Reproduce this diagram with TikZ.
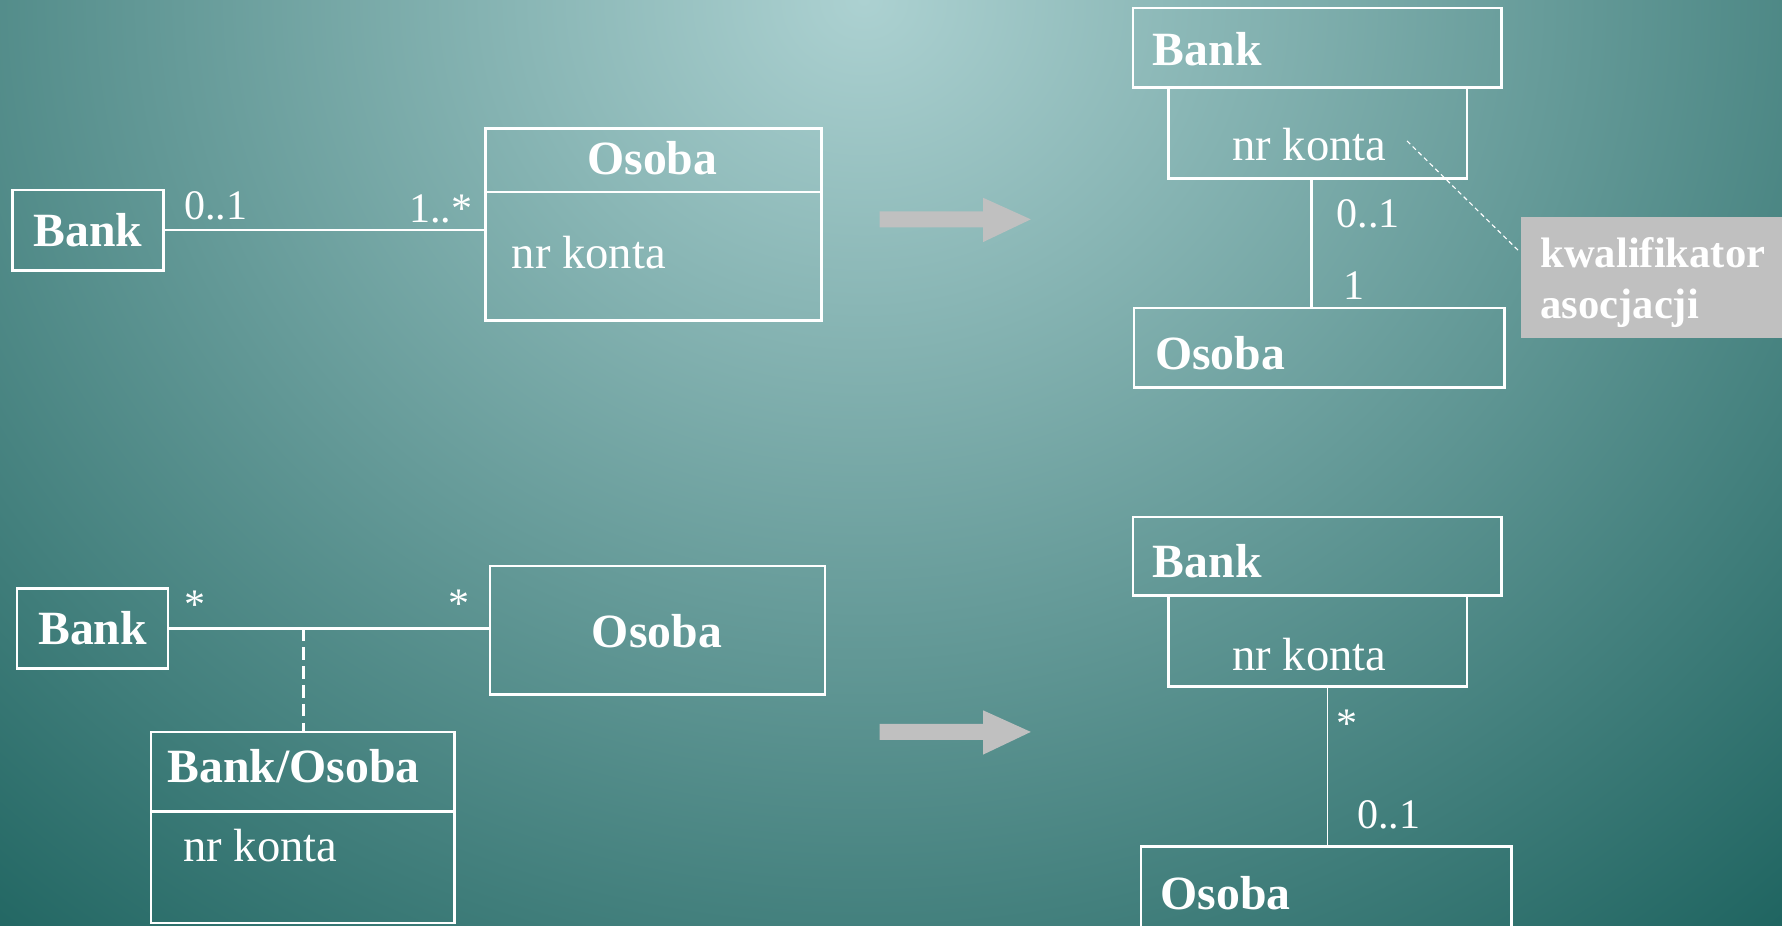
\documentclass[tikz,border=0pt]{standalone}
\usepackage{fontspec}
\setmainfont{Liberation Serif}
\usetikzlibrary{calc}

\definecolor{bglight}{RGB}{172,209,209}
\definecolor{bgdark}{RGB}{28,98,94}
\definecolor{hint}{RGB}{192,192,192}

% class box given by its corners (x1,y1) (x2,y2) in drawing units
\newcommand\umlbox[5]{%
  \node[umlframe, minimum width={(#4-#2)*0.5pt}, minimum height={(#5-#3)*0.5pt}]
    (#1) at ({(#2+#4)/2},{(#3+#5)/2}) {};}

\begin{document}
\begin{tikzpicture}[x=0.5pt, y=-0.5pt,
  umlframe/.style={draw=white, line width=1.1pt, inner sep=0pt, outer sep=0pt},
  assoc/.style={draw=white, line width=1.1pt},
  cname/.style={text=white, inner sep=0pt, font=\fontsize{21}{25}\selectfont\bfseries},
  attr/.style={text=white, inner sep=0pt, font=\fontsize{20.5}{24}\selectfont},
  mult/.style={text=white, inner sep=0pt, font=\fontsize{18.5}{22}\selectfont},
  notetext/.style={text=white, inner sep=0pt, font=\fontsize{18.75}{22}\selectfont\bfseries},
  bigarrow/.style={fill=hint, draw=none}]

\useasboundingbox (0,0) rectangle (1568,814);

% background glow from the top centre
\begin{scope}
  \clip (0,0) rectangle (1568,814);
  \fill[bgdark] (0,0) rectangle (1568,814);
  \shade[inner color=bglight, outer color=bgdark] (760,0) ellipse[x radius=620pt, y radius=560pt];
\end{scope}

% ---------- upper left: plain association ----------
\umlbox{bankA}{11}{167}{144}{238}
\node[cname] (bankAt) at (bankA) {Bank};
\umlbox{osobaAh}{427}{113}{723}{169}
\node[cname] (osobaAt) at (574,139) {Osoba};
\umlbox{osobaAb}{427}{169}{723}{282}
\node[attr, anchor=west] (osobaAa) at (450,222) {nr konta};
\draw[assoc] (bankA.east) -- (bankA.east -| osobaAb.west);
\node[mult] (mA1) at (190,181) {0..1};
\node[mult] (mA2) at (388,184) {1..*};

% ---------- upper right: qualified association ----------
\umlbox{bankB}{997}{7}{1321}{77}
\node[cname, anchor=west] (bankBt) at (1014,43) {Bank};
\umlbox{qualB}{1028}{77}{1291}{157}
\node[attr] (qualBt) at (1152,127) {nr konta};
\umlbox{osobaB}{998}{271}{1324}{341}
\node[cname, anchor=west] (osobaBt) at (1016,311) {Osoba};
\draw[assoc] ($(qualB.south)+(-5.5,0)$) -- ($(qualB.south |- osobaB.north)+(-5.5,0)$);
\node[mult] (mB1) at (1204,188) {0..1};
\node[mult] (mB2) at (1191,251) {1};

% note explaining the qualifier
\node[fill=hint, minimum width=115pt, minimum height=53pt, inner sep=0pt] (note) at (1453,244) {};
\node[notetext, anchor=base west] (noteL1) at (1355,235) {kwalifikator};
\node[notetext, anchor=base west] (noteL2) at (1355,280) {asocjacji};
\coordinate (qpoint) at (1238,124);
\draw[white, line width=0.5pt, dash pattern=on 2pt off 1.5pt] (qpoint) -- ($(note.west)+(0,-22)$);

% ---------- lower left: association class ----------
\umlbox{bankC}{15}{518}{148}{588}
\node[cname] (bankCt) at (bankC) {Bank};
\umlbox{osobaC}{431}{498}{726}{611}
\node[cname] (osobaCt) at (578,555) {Osoba};
\draw[assoc] (bankC.east) -- (bankC.east -| osobaC.west);
\node[mult] (mC1) at (172,532) {*};
\node[mult] (mC2) at (404,531) {*};
\umlbox{linkH}{133}{644}{400}{714}
\node[cname, anchor=west] (linkHt) at (147,674) {Bank/Osoba};
\umlbox{linkB}{133}{714}{400}{812}
\node[attr, anchor=west] (linkBt) at (161,744) {nr konta};
\coordinate (assocmid) at (267,553);
\draw[white, line width=1pt, dash pattern=on 5.5pt off 2.8pt] (assocmid) -- (assocmid |- linkH.north);

% ---------- lower right: qualified association ----------
\umlbox{bankD}{997}{455}{1321}{524}
\node[cname, anchor=west] (bankDt) at (1014,494) {Bank};
\umlbox{qualD}{1028}{524}{1291}{604}
\node[attr] (qualDt) at (1152,576) {nr konta};
\umlbox{osobaD}{1004}{745}{1330}{840}
\node[cname, anchor=west] (osobaDt) at (1021,786) {Osoba};
\draw[white, line width=0.8pt] ($(qualD.south)+(8.5,0)$) -- ($(qualD.south |- osobaD.north)+(8.5,0)$);
\node[mult] (mD1) at (1185,637) {*};
\node[mult] (mD2) at (1222,717) {0..1};

% ---------- transformation arrows ----------
\fill[bigarrow] (774,186) -- (865,186) -- (865,174) -- (907,193) -- (865,213) -- (865,200) -- (774,200) -- cycle;
\fill[bigarrow] (774,637) -- (865,637) -- (865,625) -- (907,644) -- (865,664) -- (865,651) -- (774,651) -- cycle;

\end{tikzpicture}
\end{document}
